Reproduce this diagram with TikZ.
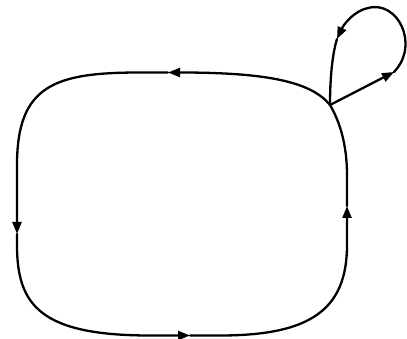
\documentclass[tikz,border=0pt]{standalone}
\usetikzlibrary{arrows.meta}
\begin{document}
\begin{tikzpicture}[x=1pt,y=-1pt,
  edge/.style={line width=2.3pt,line cap=round},
  tip/.style={-{Triangle[length=12pt,width=9pt]}}]
\useasboundingbox (0,0) rectangle (407,339);
% named points
\coordinate (c) at (330,105);
\coordinate (a1) at (168,72.5);
\coordinate (a2) at (17,234);
\coordinate (a3) at (190,335.5);
\coordinate (a4) at (347,206);
\coordinate (b1) at (394,72);
\coordinate (b2) at (337,39);
\coordinate (top) at (368,8);
% main loop
\draw[edge,tip] (c) .. controls (310,80) and (260,72.5) .. (a1);
\draw[edge,tip] (a1) -- (140,72.5) .. controls (55,72.5) and (17,85) .. (17,165) -- (a2);
\draw[edge,tip] (a2) -- (17,245) .. controls (17,305) and (40,335.5) .. (150,335.5) -- (a3);
\draw[edge,tip] (a3) -- (220,335.5) .. controls (310,335.5) and (347,310) .. (347,245) -- (a4);
\draw[edge] (a4) -- (347,175) .. controls (347,145) and (340,122) .. (c);
% self loop
\draw[edge,tip] (c) -- (b1);
\draw[edge,tip] (b1) .. controls (420,45) and (398,0) .. (top) .. controls (354,11) and (344,24) .. (b2);
\draw[edge] (b2) .. controls (332,55) and (330,80) .. (c);
\end{tikzpicture}
\end{document}
